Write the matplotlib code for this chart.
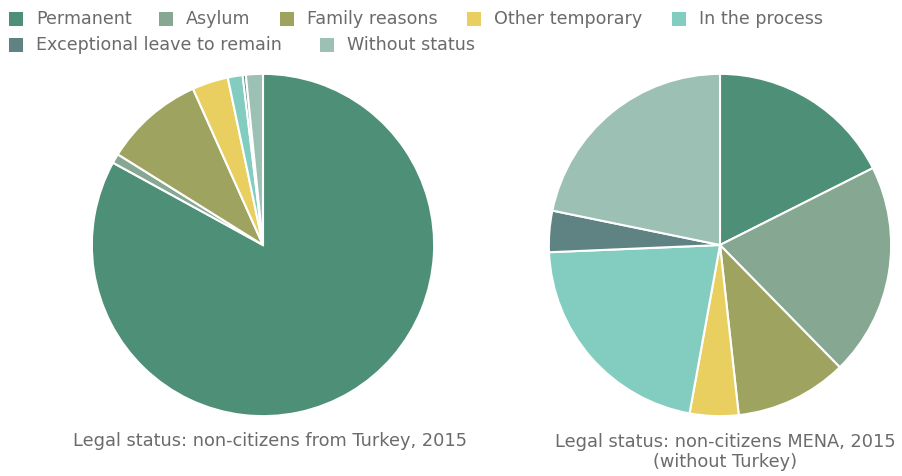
import matplotlib.pyplot as plt
from matplotlib.patches import Rectangle

plt.rcParams['font.family'] = ['DejaVu Sans']

categories = ["Permanent", "Asylum", "Family reasons", "Other temporary",
              "In the process", "Exceptional leave to remain", "Without status"]
colors = ["#4e8f78", "#86a892", "#9ea35f", "#e8cf60", "#82cdc0", "#5f8382", "#9cc0b3"]

turkey = [82.9, 0.9, 9.4, 3.4, 1.4, 0.3, 1.6]
mena = [17.6, 20.1, 10.6, 4.6, 21.5, 3.9, 21.8]

captions = ["Legal status: non-citizens from Turkey, 2015",
            "Legal status: non-citizens MENA, 2015\n(without Turkey)"]

W, H = 902, 476
fig = plt.figure(figsize=(W / 100, H / 100), dpi=100)

# pies
centers = [(263, 245), (720, 245)]
r = 172
for (cx, cy), vals in zip(centers, [turkey, mena]):
   ax = fig.add_axes([(cx - r) / W, (H - cy - r) / H, 2 * r / W, 2 * r / H])
   wedges, _ = ax.pie(vals, colors=colors, startangle=90, counterclock=False,
                      radius=1, wedgeprops=dict(edgecolor="white", linewidth=1.5))
   for w in wedges:
      w.set_clip_on(False)
   ax.set_xlim(-1.005, 1.005)
   ax.set_ylim(-1.005, 1.005)
   ax.set_aspect("equal")
   ax.axis("off")

txt = "#6b6b6b"
fig.text(270 / W, 1 - 441 / H, captions[0], ha="center", va="center",
         fontsize=12.8, color=txt)
fig.text(725 / W, 1 - 452 / H, captions[1], ha="center", va="center",
         fontsize=12.8, color=txt, linespacing=1.15)

# legend, laid out by hand (flow layout over two rows)
legend_pos = [(9, 19), (159, 19), (280, 19), (467, 19), (672, 19),
              (9, 45), (320, 45)]
sq = 14
for (x, y), lab, c in zip(legend_pos, categories, colors):
   fig.add_artist(Rectangle((x / W, 1 - (y + sq / 2) / H), sq / W, sq / H,
                            transform=fig.transFigure, facecolor=c,
                            edgecolor="none"))
   fig.text((x + 27) / W, 1 - y / H, lab, ha="left", va="center",
            fontsize=12.6, color=txt)

fig.savefig("out.png", dpi=100)
